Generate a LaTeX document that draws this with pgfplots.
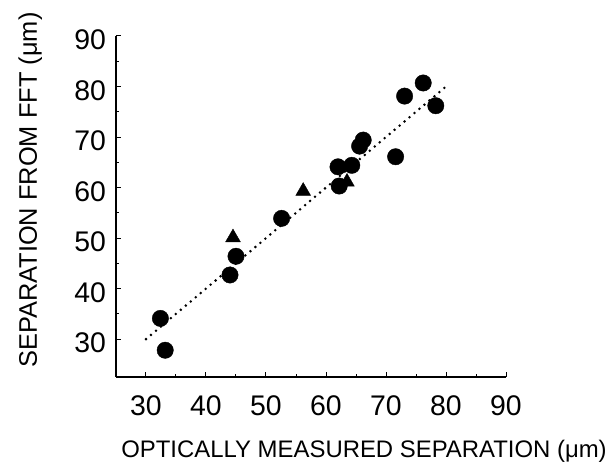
\documentclass[border=0pt]{standalone}
\usepackage{pgfplots}
\pgfplotsset{compat=1.18}
\usepackage{fontspec}
\setmainfont{Liberation Sans}
\begin{document}
\begin{tikzpicture}
\useasboundingbox (-116bp,-88bp) rectangle (498bp,377bp);
\begin{axis}[at={(0,0)},anchor=south west,
scale only axis,width=390bp,height=341bp,
xmin=25,xmax=90,ymin=22.5,ymax=90,
axis lines*=left,
xtick={30,40,...,90},ytick={30,40,...,90},minor tick num=1,
tick align=inside,major tick length=5bp,minor tick length=3bp,
tick style={black,line width=1bp},
axis line style={line width=2bp},
/pgf/number format/assume math mode=true,
tick label style={font=\fontsize{28.5}{30}\selectfont},
xticklabel style={yshift=-15bp},
yticklabel style={xshift=-6.5bp,yshift=-4bp},
every axis x label/.style={at={(rel axis cs:0.636,-0.2375)},anchor=base,font=\fontsize{24}{26}\selectfont},
every axis y label/.style={at={(rel axis cs:-0.2026,0.548)},rotate=90,anchor=base,font=\fontsize{25.5}{27}\selectfont},
xlabel={OPTICALLY MEASURED SEPARATION (μm)},
ylabel={SEPARATION FROM FFT (μm)},
clip=false]
% fitted line y = x
\addplot[black,line width=2.8bp,line cap=round,dash pattern=on 0pt off 6.5bp] coordinates {(30,30)(80,80)};
% circles
\addplot[only marks,mark=*,mark size=8.2bp,black] coordinates {
(32.4,34.1)(33.2,27.8)(44.0,42.7)(45.0,46.4)(52.6,53.9)
(62.0,64.1)(62.2,60.3)(64.3,64.4)(65.6,68.2)(66.2,69.4)
(71.6,66.1)(73.1,78.1)(76.2,80.7)(78.3,76.2)};
% triangles
\addplot[only marks,mark=triangle*,mark size=8.5bp,black] coordinates {
(44.5,50.1)(56.2,59.3)(63.5,61.1)};
\end{axis}
\end{tikzpicture}
\end{document}
